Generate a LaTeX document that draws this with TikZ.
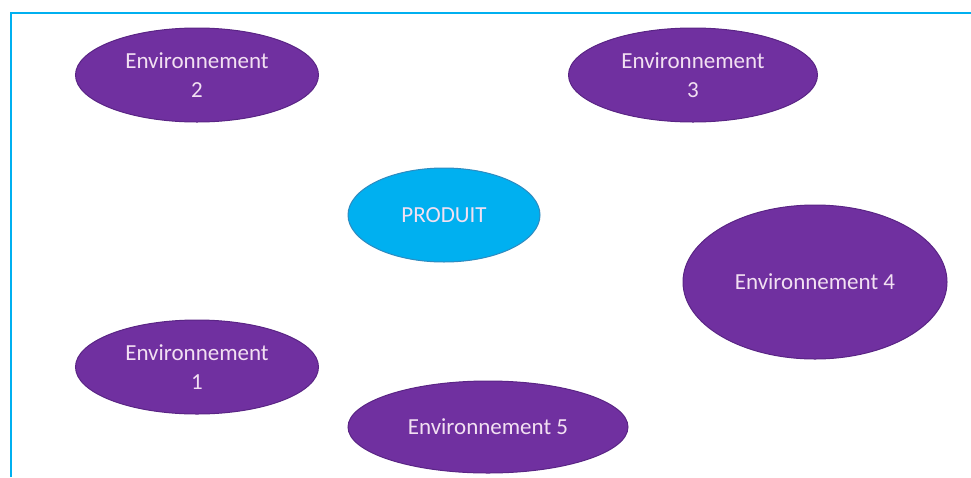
\documentclass[tikz,border=0pt]{standalone}
\usepackage{fontspec}
\setmainfont{Carlito}
\usetikzlibrary{shapes.geometric}
\definecolor{envpurple}{HTML}{7030A0}
\definecolor{envedge}{HTML}{5A2585}
\definecolor{prodblue}{HTML}{00B0F0}
\definecolor{prodedge}{HTML}{2E8BC0}
\definecolor{envtext}{HTML}{F2E0F2}
\definecolor{frameblue}{HTML}{00B0F0}
\begin{document}
\begin{tikzpicture}[x=1pt, y=-1pt,
	envnode/.style={ellipse, fill=envpurple, draw=envedge, line width=1pt, inner sep=0pt,
		text=envtext, align=center, font=\fontsize{23}{29}\selectfont},
	prodnode/.style={ellipse, fill=prodblue, draw=prodedge, line width=1pt, inner sep=0pt,
		text=envtext, font=\fontsize{23}{29}\selectfont}]
	\useasboundingbox (0,0) rectangle (971,477);
	% frame on top and left
	\draw[frameblue, line width=2pt] (11,477) -- (11,13) -- (971,13);
	% centre
	\node[prodnode, minimum width=192pt, minimum height=94pt] (produit) at (444,215) {PRODUIT};
	% environments
	\node[envnode, minimum width=243pt, minimum height=94pt] (env2) at (197,75) {Environnement\\2};
	\node[envnode, minimum width=249pt, minimum height=94pt] (env3) at (693,75) {Environnement\\3};
	\node[envnode, minimum width=264pt, minimum height=154pt] (env4) at (815,282) {Environnement 4};
	\node[envnode, minimum width=243pt, minimum height=94pt] (env1) at (197,367) {Environnement\\1};
	\node[envnode, minimum width=280pt, minimum height=92pt] (env5) at (488,427) {Environnement 5};
\end{tikzpicture}
\end{document}
